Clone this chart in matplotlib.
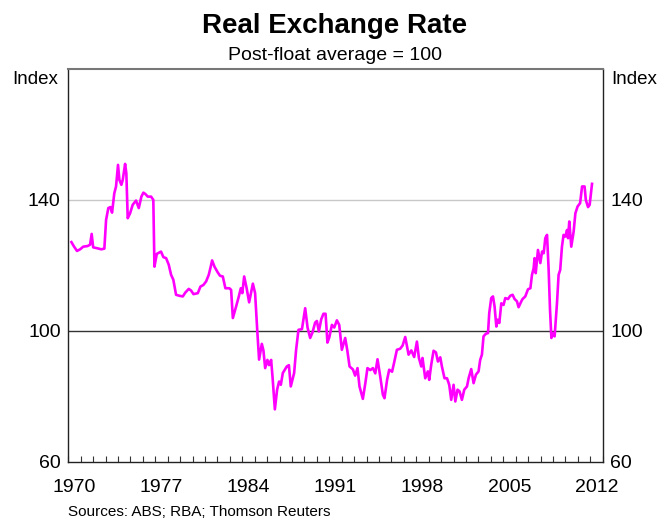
import matplotlib
matplotlib.use("Agg")
import matplotlib.pyplot as plt
from matplotlib.ticker import MultipleLocator

plt.rcParams['font.family'] = ['Liberation Sans', 'DejaVu Sans']

# real exchange rate, post-float average = 100
dates = [
    1970.25, 1970.45, 1970.70, 1970.95, 1971.20, 1971.55, 1971.75, 1971.88, 1972.00, 1972.35,
    1972.65, 1972.90, 1973.04, 1973.22, 1973.38, 1973.52, 1973.70, 1973.84, 1974.00, 1974.11,
    1974.27, 1974.38, 1974.57, 1974.67, 1974.78, 1974.97, 1975.18, 1975.45, 1975.67, 1975.88,
    1976.04, 1976.20, 1976.39, 1976.66, 1976.84, 1976.93, 1977.12, 1977.46, 1977.65, 1977.87,
    1978.08, 1978.27, 1978.45, 1978.67, 1978.94, 1979.21, 1979.42, 1979.69, 1979.88, 1980.07,
    1980.42, 1980.63, 1980.87, 1981.09, 1981.30, 1981.43, 1981.57, 1981.76, 1982.03, 1982.21,
    1982.43, 1982.64, 1982.96, 1983.10, 1983.24, 1983.50, 1983.72, 1983.88, 1984.00, 1984.15,
    1984.35, 1984.55, 1984.85, 1985.03, 1985.20, 1985.35, 1985.57, 1985.70, 1985.84, 1986.02,
    1986.15, 1986.32, 1986.43, 1986.62, 1986.80, 1986.96, 1987.10, 1987.26, 1987.58, 1987.75,
    1987.90, 1988.17, 1988.33, 1988.52, 1988.80, 1989.06, 1989.25, 1989.46, 1989.65, 1989.86,
    1990.00, 1990.16, 1990.35, 1990.53, 1990.70, 1990.85, 1991.00, 1991.21, 1991.40, 1991.61,
    1991.80, 1992.01, 1992.28, 1992.45, 1992.63, 1992.90, 1993.08, 1993.27, 1993.43, 1993.70,
    1993.90, 1994.07, 1994.30, 1994.51, 1994.70, 1994.88, 1995.10, 1995.31, 1995.44, 1995.65,
    1995.82, 1996.05, 1996.20, 1996.44, 1996.70, 1996.90, 1997.11, 1997.38, 1997.60, 1997.83,
    1998.05, 1998.21, 1998.40, 1998.50, 1998.72, 1998.93, 1999.04, 1999.20, 1999.39, 1999.58,
    1999.74, 1999.93, 2000.06, 2000.27, 2000.47, 2000.65, 2000.81, 2001.00, 2001.14, 2001.32,
    2001.48, 2001.67, 2001.86, 2002.08, 2002.21, 2002.42, 2002.61, 2002.80, 2003.01, 2003.14,
    2003.28, 2003.41, 2003.60, 2003.77, 2003.87, 2004.03, 2004.17, 2004.30, 2004.44, 2004.54,
    2004.68, 2004.84, 2005.02, 2005.16, 2005.38, 2005.56, 2005.75, 2005.91, 2006.10, 2006.23,
    2006.45, 2006.55, 2006.77, 2006.99, 2007.18, 2007.31, 2007.44, 2007.52, 2007.61, 2007.79,
    2007.98, 2008.12, 2008.25, 2008.38, 2008.52, 2008.65, 2008.76, 2008.87, 2009.00, 2009.13,
    2009.32, 2009.45, 2009.58, 2009.72, 2009.85, 2009.99, 2010.13, 2010.21, 2010.31, 2010.47,
    2010.66, 2010.80, 2010.98, 2011.18, 2011.34, 2011.54, 2011.64, 2011.82, 2011.95, 2012.14,
]
rer = [
    127.1, 125.8, 124.4, 124.9, 125.7, 125.9, 126.3, 129.6, 125.5, 125.2,
    124.9, 125.1, 133.9, 137.5, 137.8, 136.1, 142.0, 144.1, 150.7, 146.1,
    144.6, 146.1, 151.0, 148.1, 134.4, 135.9, 138.5, 139.8, 137.5, 141.0,
    142.2, 141.8, 141.0, 141.0, 140.0, 119.6, 123.5, 124.2, 122.5, 122.2,
    120.2, 117.1, 115.6, 111.0, 110.7, 110.5, 111.7, 112.8, 112.3, 111.2,
    111.5, 113.5, 114.0, 115.1, 117.1, 119.1, 121.5, 119.6, 117.8, 116.8,
    116.6, 113.0, 113.0, 112.5, 103.9, 107.4, 110.5, 113.0, 111.5, 116.6,
    113.0, 108.7, 114.4, 111.5, 100.3, 91.2, 96.0, 94.0, 88.6, 91.1,
    89.5, 91.1, 86.0, 76.0, 82.0, 84.5, 83.5, 87.1, 89.1, 89.5,
    83.0, 87.1, 94.2, 100.3, 100.5, 106.9, 101.0, 97.8, 99.5, 102.5,
    103.0, 99.8, 103.5, 105.2, 105.2, 96.4, 98.0, 101.8, 101.0, 103.2,
    101.8, 94.2, 97.8, 94.0, 89.1, 88.2, 86.3, 88.6, 83.0, 79.2,
    84.0, 88.6, 88.0, 88.6, 87.0, 91.3, 86.0, 80.5, 79.4, 85.0,
    88.1, 87.5, 90.0, 94.2, 94.5, 95.5, 98.1, 92.7, 94.0, 92.0,
    96.7, 91.7, 89.1, 91.7, 85.5, 87.6, 85.0, 89.6, 93.9, 93.4,
    90.6, 91.9, 89.1, 85.5, 85.5, 83.5, 78.9, 83.5, 78.4, 82.0,
    81.5, 78.9, 82.0, 83.0, 85.5, 88.3, 84.0, 86.6, 87.6, 91.1,
    92.7, 98.3, 99.1, 99.3, 105.4, 110.0, 110.5, 107.4, 101.3, 103.4,
    102.4, 108.4, 107.9, 110.0, 109.7, 110.7, 111.0, 109.7, 109.0, 107.2,
    109.0, 109.7, 110.5, 112.7, 113.0, 117.1, 119.1, 122.2, 117.6, 124.7,
    120.7, 124.2, 123.7, 128.3, 129.3, 118.6, 106.4, 97.8, 99.3, 98.3,
    108.4, 117.1, 118.6, 125.7, 129.3, 128.8, 130.8, 128.3, 133.4, 125.7,
    130.3, 135.9, 138.0, 139.0, 144.1, 144.1, 140.0, 137.8, 138.5, 144.9,
]

year_labels = [1970, 1977, 1984, 1991, 1998, 2005, 2012]
y_ticks = [60, 100, 140]

fig = plt.figure(figsize=(6.6, 5.19), dpi=100)
ax = fig.add_axes([0.1035, 0.1104, 0.8097, 0.7567])

ax.axhline(140, color='#c8c8c8', lw=1.0, zorder=1)
ax.axhline(100, color='#333333', lw=1.0, zorder=1)
ax.plot(dates, rer, color='#ff00ff', lw=1.9, zorder=3)

ax.set_xlim(1970, 2013)
ax.set_ylim(60, 180)

# year labels sit in the middle of each year
ax.set_xticks([y + 0.5 for y in year_labels])
ax.set_xticklabels([str(y) for y in year_labels])
ax.xaxis.set_minor_locator(MultipleLocator(1))
ax.tick_params(axis='x', which='major', length=0, pad=12.5, labelsize=14)
ax.tick_params(axis='x', which='minor', direction='in', length=4, width=0.8, color='#333333')

ax.set_yticks(y_ticks)
ax.tick_params(axis='y', length=0, pad=5.5, labelsize=14, labelright=True)

for side in ['left', 'right', 'bottom']:
    ax.spines[side].set_color('#222222')
    ax.spines[side].set_linewidth(1.0)
ax.spines['top'].set_color('#777777')
ax.spines['top'].set_linewidth(1.5)

fig.text(0.5076, 0.9364, 'Real Exchange Rate', ha='center', va='baseline',
         fontsize=20, fontweight='bold')
fig.text(0.5076, 0.8844, 'Post-float average = 100', ha='center', va='baseline', fontsize=14)
fig.text(0.0883, 0.8376, 'Index', ha='right', va='baseline', fontsize=13.5)
fig.text(0.9265, 0.8376, 'Index', ha='left', va='baseline', fontsize=13.5)
fig.text(0.1035, 0.0067, 'Sources: ABS; RBA; Thomson Reuters', ha='left', va='baseline', fontsize=11)

fig.savefig('out.png', dpi=100)
